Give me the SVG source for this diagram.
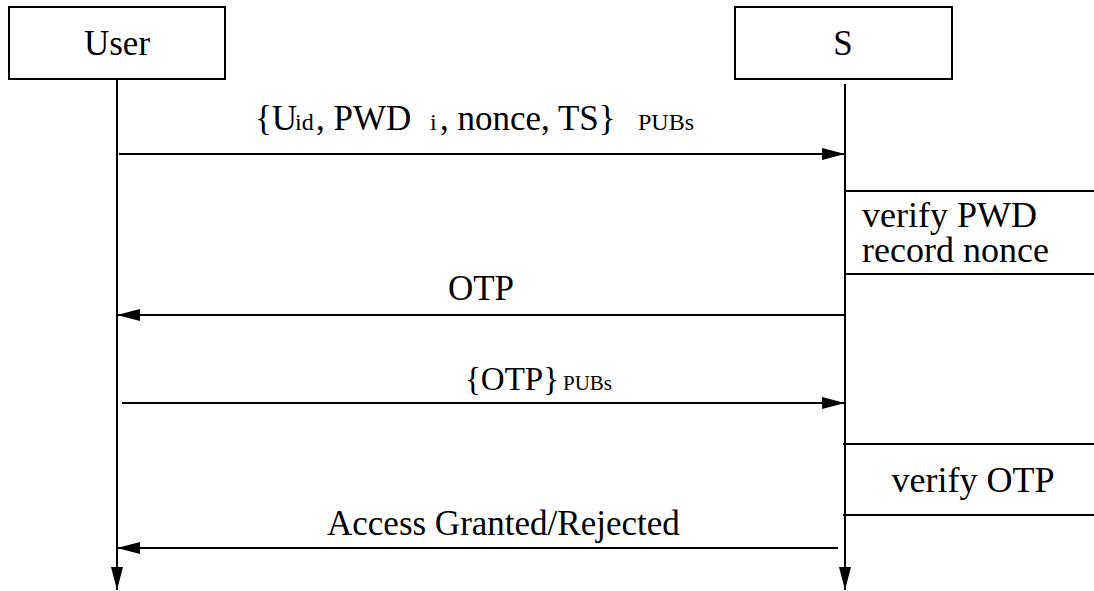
<svg xmlns="http://www.w3.org/2000/svg" width="1094" height="591" viewBox="0 0 1094 591">
  <style>
    .box { fill: #fff; stroke: #000; stroke-width: 2; }
    .ln { fill: none; stroke: #000; stroke-width: 2; }
    .big { font-size: 35px; }
    .proc { font-size: 36px; }
    .sub { font-size: 24px; }
  </style>
  <defs>
    <marker id="arr" markerUnits="userSpaceOnUse" markerWidth="24" markerHeight="13" refX="23" refY="6" orient="auto" viewBox="0 0 24 12">
      <path d="M0,0 L23,6 L0,12 z" fill="#000"/>
    </marker>
  </defs>
  <rect width="1094" height="591" fill="#fff"/>

  <g font-family="Liberation Serif, DejaVu Serif, serif" fill="#000">
  <g id="user">
    <rect class="box" x="9" y="7" width="216" height="72"/>
    <text class="big" x="117" y="55" text-anchor="middle">User</text>
  </g>
  <g id="server">
    <rect class="box" x="735" y="7" width="217" height="72"/>
    <text class="big" x="843" y="55" text-anchor="middle">S</text>
  </g>

  <g id="verify-pwd">
    <line class="ln" x1="845" y1="191" x2="1094" y2="191"/>
    <line class="ln" x1="845" y1="274" x2="1094" y2="274"/>
    <text class="proc" x="862" y="227">verify PWD</text>
    <text class="proc" x="862" y="262">record nonce</text>
  </g>
  <g id="verify-otp">
    <line class="ln" x1="843" y1="444" x2="1094" y2="444"/>
    <line class="ln" x1="843" y1="515" x2="1094" y2="515"/>
    <text class="proc" x="973" y="492" text-anchor="middle">verify OTP</text>
  </g>

  <g id="connectors">
    <line class="ln" x1="117" y1="80" x2="117" y2="590" marker-end="url(#arr)"/>
    <line class="ln" x1="845" y1="84" x2="845" y2="590" marker-end="url(#arr)"/>
    <line class="ln" x1="119" y1="154" x2="845" y2="154" marker-end="url(#arr)"/>
    <line class="ln" x1="845" y1="315" x2="117" y2="315" marker-end="url(#arr)"/>
    <line class="ln" x1="122" y1="403" x2="845" y2="403" marker-end="url(#arr)"/>
    <line class="ln" x1="838" y1="548" x2="117" y2="548" marker-end="url(#arr)"/>
  </g>

  <g id="labels">
    <text class="big" y="130"><tspan x="255">{U</tspan><tspan class="sub" x="295">id</tspan><tspan x="316">, PWD</tspan><tspan class="sub" x="430">i</tspan><tspan x="440">, nonce, TS}</tspan><tspan class="sub" x="638">PUBs</tspan></text>
    <text class="big" x="481" y="300" text-anchor="middle">OTP</text>
    <text y="390" font-size="33"><tspan x="465">{OTP}</tspan><tspan x="563" font-size="21">PUBs</tspan></text>
    <text class="big" x="327" y="535">Access Granted/Rejected</text>
  </g>
  </g>
</svg>
